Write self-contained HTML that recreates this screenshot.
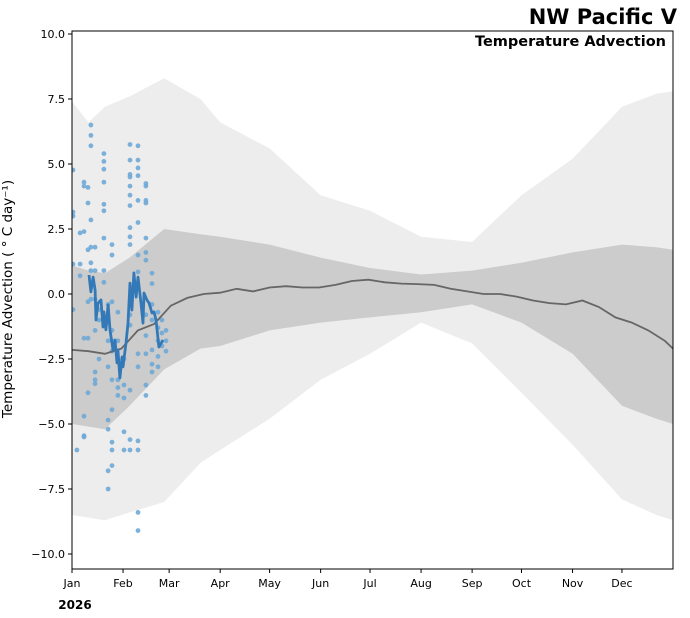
<!DOCTYPE html>
<html><head><meta charset="utf-8"><style>
html,body{margin:0;padding:0;background:#fff;}
svg{display:block;font-family:"DejaVu Sans","Liberation Sans",sans-serif;}
</style></head><body>
<svg id="chart" width="690" height="618" viewBox="0 0 690 618" xmlns="http://www.w3.org/2000/svg">
<text x="677" y="24" text-anchor="end" font-size="21" font-weight="bold" fill="#000">NW Pacific V</text>
<text x="666" y="46" text-anchor="end" font-size="14.5" font-weight="bold" fill="#000">Temperature Advection</text>
<text transform="translate(12,299) rotate(-90)" text-anchor="middle" font-size="13.5" fill="#000">Temperature Advection ( ° C day⁻¹)</text>
<text x="75" y="609" text-anchor="middle" font-size="12" font-weight="bold" fill="#000">2026</text>
<defs><clipPath id="plotclip"><rect x="72" y="31" width="601" height="538"/></clipPath></defs>
<g id="plot" clip-path="url(#plotclip)"></g>
<g id="axes"></g>
</svg>
<script>
// ---- data ----
const bandDays = [0,10,20,35,56,78,90,120,151,181,212,243,273,304,334,355,365];
const outerTop = [7.4,6.6,7.2,7.6,8.3,7.5,6.6,5.6,3.8,3.2,2.2,2.0,3.8,5.2,7.2,7.7,7.8];
const outerBottom = [-8.5,-8.6,-8.7,-8.4,-8.0,-6.5,-6.0,-4.8,-3.3,-2.3,-1.1,-1.9,-3.8,-5.8,-7.9,-8.5,-8.7];
const innerTop = [1.1,0.9,0.8,1.4,2.5,2.3,2.2,1.9,1.4,1.0,0.75,0.9,1.2,1.6,1.9,1.8,1.7];
const innerBottom = [-5.0,-5.1,-5.2,-4.3,-2.9,-2.1,-2.0,-1.4,-1.1,-0.9,-0.7,-0.4,-1.1,-2.3,-4.3,-4.8,-5.0];
const medianDays = [0,10,20,30,40,50,60,70,80,90,100,110,120,130,140,150,160,170,180,190,200,210,220,230,240,250,260,270,280,290,300,310,320,330,340,350,360,365];
const medianVals = [-2.15,-2.2,-2.3,-2.1,-1.4,-1.15,-0.45,-0.15,0.0,0.05,0.2,0.1,0.25,0.3,0.25,0.25,0.35,0.5,0.55,0.45,0.4,0.38,0.35,0.2,0.1,0.0,0.0,-0.1,-0.25,-0.35,-0.4,-0.25,-0.5,-0.9,-1.1,-1.4,-1.8,-2.1];
const obsDays = [10.3,11.5,12.8,14.0,14.6,15.8,17.6,18.8,19.4,20.6,21.9,23.1,24.9,26.1,27.3,27.9,29.1,30.4,31.0,32.8,34.0,35.2,36.4,37.6,38.9,40.1,41.9,43.1,43.7,45.5,46.8,48.6,49.8,51.0,52.8,55.3];
const obsVals = [0.73,0.08,0.65,0.15,-1.0,-0.35,-0.23,-1.27,-0.69,-1.38,-0.42,-1.38,-2.15,-1.77,-2.65,-2.15,-3.23,-2.42,-2.8,-1.88,-1.12,0.42,-0.62,0.81,-0.12,0.65,-0.35,-1.12,0.04,-0.23,-0.35,-0.73,-0.69,-1.0,-2.04,-1.77];
const pointDays = [0.6,0.6,0.6,0.6,0.6,3,4.9,4.9,4.9,7.3,7.3,7.3,7.3,7.3,7.3,7.3,9.7,9.7,9.7,9.7,9.7,9.7,11.5,11.5,11.5,11.5,11.5,11.5,11.5,11.5,14,14,14,14,14,14,14,16.4,16.4,16.4,19.4,19.4,19.4,19.4,19.4,19.4,19.4,19.4,19.4,21.9,21.9,21.9,21.9,21.9,21.9,21.9,21.9,24.3,24.3,24.3,24.3,24.3,24.3,24.3,24.3,24.3,24.3,24.3,27.9,27.9,27.9,27.9,27.9,27.9,31.6,31.6,31.6,31.6,31.6,35.2,35.2,35.2,35.2,35.2,35.2,35.2,35.2,35.2,35.2,35.2,35.2,35.2,35.2,35.2,40.1,40.1,40.1,40.1,40.1,40.1,40.1,40.1,40.1,40.1,40.1,40.1,40.1,40.1,44.9,44.9,44.9,44.9,44.9,44.9,44.9,44.9,44.9,44.9,44.9,44.9,48.6,48.6,48.6,48.6,48.6,48.6,48.6,52.2,52.2,52.2,52.2,52.2,54.6,54.6,54.6,57.1,57.1,57.1];
const pointVals = [4.77,3.15,3.0,1.15,-0.6,-6.0,1.15,0.7,2.35,4.3,4.15,2.4,-1.7,-4.7,-5.45,-5.5,3.5,4.1,1.7,-1.7,-3.8,-0.3,6.5,6.1,5.7,2.85,1.8,1.2,0.9,-0.2,1.8,0.9,-0.2,-1.4,-3.0,-3.3,-3.45,-0.6,-1.0,-2.5,5.4,5.1,4.8,4.3,3.45,3.2,2.15,0.9,0.45,-0.4,-1.1,-1.8,-2.8,-4.85,-5.2,-6.8,-7.5,1.9,1.5,-0.3,-1.4,-1.8,-2.2,-3.3,-4.45,-5.7,-6.0,-6.6,-1.8,-2.5,-3.3,-3.6,-3.9,-0.7,-3.5,-5.3,-6.0,-4.0,-2.5,5.75,5.15,4.6,4.5,4.15,3.8,3.4,2.55,2.2,1.9,-0.8,-1.2,-3.7,-5.6,-6.0,5.7,5.15,4.85,4.55,3.6,2.75,1.5,0.85,-2.3,-2.8,-5.65,-6.0,-8.4,-9.1,4.15,4.25,3.6,3.5,2.15,1.6,1.3,-0.8,-1.6,-2.3,-3.5,-3.9,0.8,0.4,-0.4,-1.0,-2.15,-2.7,-3.0,-0.7,-1.3,-1.8,-2.4,-2.8,-1.0,-1.5,-2.0,-1.4,-1.8,-2.2];
const yTicks = [10,7.5,5,2.5,0,-2.5,-5,-7.5,-10];
const yTickLabels = ["10.0","7.5","5.0","2.5","0.0","\u22122.5","\u22125.0","\u22127.5","\u221210.0"];
const monthDays = [0,31,59,90,120,151,181,212,243,273,304,334];
const monthLabels = ["Jan","Feb","Mar","Apr","May","Jun","Jul","Aug","Sep","Oct","Nov","Dec"];

// ---- scales ----
const X0=72, X1=673, Y0=31, Y1=569;
function xs(d){ return X0 + d*(X1-X0)/365; }
function ys(v){ return 294 - v*26; }
const NS="http://www.w3.org/2000/svg";
const plot=document.getElementById('plot'), axes=document.getElementById('axes');
function mk(tag, attrs, parent){ const e=document.createElementNS(NS,tag); for(const k in attrs) e.setAttribute(k,attrs[k]); parent.appendChild(e); return e; }
function bandPath(days, top, bot){
  let d='';
  days.forEach((t,i)=>{ d+=(i?'L':'M')+xs(t).toFixed(1)+','+ys(top[i]).toFixed(1); });
  for(let i=days.length-1;i>=0;i--) d+='L'+xs(days[i]).toFixed(1)+','+ys(bot[i]).toFixed(1);
  return d+'Z';
}
function linePath(days, vals){ return days.map((t,i)=>(i?'L':'M')+xs(t).toFixed(1)+','+ys(vals[i]).toFixed(1)).join(''); }

const ob=mk('path',{d:bandPath(bandDays,outerTop,outerBottom),fill:'#ededed'},plot);


const ib=mk('path',{d:bandPath(bandDays,innerTop,innerBottom),fill:'#cccccc'},plot);


pointDays.forEach((t,i)=>{
  const c=mk('circle',{cx:xs(t).toFixed(1),cy:ys(pointVals[i]).toFixed(1),r:2.4,fill:'#6fa8d6','fill-opacity':0.9},plot);
  
  
});
const ml=mk('path',{d:linePath(medianDays,medianVals),fill:'none',stroke:'#666','stroke-width':1.8},plot);


const bl=mk('path',{d:linePath(obsDays,obsVals),fill:'none',stroke:'#3379b8','stroke-width':2.8,'stroke-linejoin':'round'},plot);



const frame=mk('rect',{x:X0,y:Y0,width:X1-X0,height:Y1-Y0,fill:'none',stroke:'#000','stroke-width':1},axes);


yTicks.forEach((v,i)=>{
  const y=ys(v);
  const tk=mk('line',{x1:X0-4,x2:X0,y1:y,y2:y,stroke:'#000','stroke-width':1},axes);
  
  
  const tx=mk('text',{x:X0-7,y:y+4,'text-anchor':'end','font-size':11,fill:'#000'},axes);
  tx.textContent=yTickLabels[i];
  
  
});
monthDays.forEach((d,i)=>{
  const x=xs(d);
  const tk=mk('line',{x1:x,x2:x,y1:Y1,y2:Y1+4,stroke:'#000','stroke-width':1},axes);
  
  
  const tx=mk('text',{x:x,y:Y1+18,'text-anchor':'middle','font-size':11,fill:'#000'},axes);
  tx.textContent=monthLabels[i];
  
  
});
</script>
</body></html>
